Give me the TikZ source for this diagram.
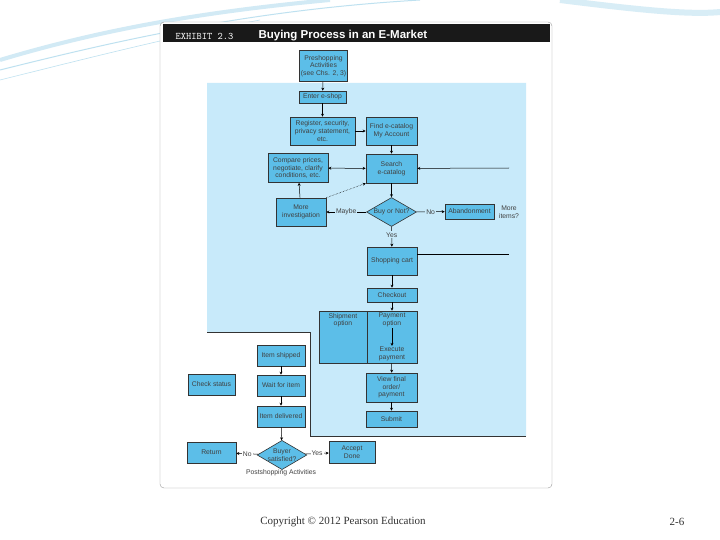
\documentclass[tikz,border=0pt]{standalone}
\usepackage{fontspec}
\setmainfont{Liberation Sans}
\newfontfamily\serf{Liberation Serif}
\usetikzlibrary{shapes.geometric,arrows.meta}
\definecolor{boxc}{RGB}{92,190,232}
\definecolor{regc}{RGB}{200,234,250}
\definecolor{swc}{RGB}{190,225,240}
\begin{document}
\begin{tikzpicture}[x=1pt,y=-1pt,
  bx/.style={draw=black!80,line width=0.6pt,fill=boxc,inner sep=0pt,align=center,font=\fontsize{6.8}{7.6}\selectfont,text=black!75},
  dm/.style={diamond,draw=black!80,line width=0.6pt,fill=boxc,inner sep=0pt,align=center,aspect=1.7,font=\fontsize{6.8}{7.6}\selectfont,text=black!75},
  lb/.style={font=\fontsize{6.8}{7.6}\selectfont,text=black!75,align=center,inner sep=1pt},
  ar/.style={-{Stealth[length=3pt,width=3pt]},line width=0.5pt}]
\useasboundingbox (0,0) rectangle (720,540);
\fill[white] (0,0) rectangle (720,540);
% background swooshes
\draw[swc,line width=1pt] (0,70) .. controls (120,40) and (250,10) .. (420,0);
\draw[swc!70,line width=4pt] (0,60) .. controls (100,30) and (200,12) .. (330,0);
\draw[swc,line width=0.6pt] (0,80) .. controls (100,55) and (180,35) .. (260,20);
\draw[swc!60,line width=6pt] (560,0) .. controls (640,10) and (690,15) .. (720,12);
% panel
\draw[black!40,fill=white,rounded corners=4pt] (160,22) rectangle (552,488);
\fill[black!90] (163,24) rectangle (550,42);
\node[anchor=west,text=white,font=\fontsize{10}{11}\selectfont\ttfamily] (ex) at (172,36) {EXHIBIT 2.3};
\node[anchor=west,text=white,font=\fontsize{11.5}{12}\selectfont\bfseries] (ti) at (255,36) {Buying Process in an E-Market};
% region
\fill[regc] (207,83) -- (526,83) -- (526,436) -- (310,436) -- (310,332) -- (207,332) -- cycle;
\draw[black!80,line width=0.6pt] (207,332) -- (310,332) -- (310,436) -- (526,436);
% nodes
\node[bx,minimum width=48,minimum height=31] (pre) at (323.5,66) {Preshopping\\Activities\\(see Chs. 2, 3)};
\node[bx,minimum width=47,minimum height=12] (ent) at (322.5,97) {Enter e-shop};
\node[bx,minimum width=65,minimum height=28] (reg) at (322.5,131) {Register, security,\\privacy statement,\\etc.};
\node[bx,minimum width=51,minimum height=28] (fin) at (391.5,131) {Find e-catalog\\My Account};
\node[bx,minimum width=60,minimum height=29] (cmp) at (298,168) {Compare prices,\\negotiate, clarify\\conditions, etc.};
\node[bx,minimum width=51,minimum height=29] (sea) at (391.5,168.5) {Search\\e-catalog};
\node[bx,minimum width=50,minimum height=28] (inv) at (301,212) {More\\investigation};
\node[dm,minimum width=50,minimum height=29] (buy) at (391.5,212) {Buy or Not?};
\node[bx,minimum width=49,minimum height=15] (aba) at (469.5,211.5) {Abandonment};
\node[lb] (mor) at (509,212) {More\\items?};
\node[bx,minimum width=50,minimum height=28] (car) at (392,261) {Shopping cart};
\node[bx,minimum width=50,minimum height=14] (chk) at (392,295) {Checkout};
\node[bx,minimum width=48,minimum height=52] (shp) at (343,337) {};
\node[lb,anchor=north] (sho) at (343,312) {Shipment\\option};
\node[bx,minimum width=50,minimum height=52] (pay) at (392,337) {};
\node[lb,anchor=north] (pop) at (392,312) {Payment\\option};
\node[lb,anchor=south] (exe) at (392,362) {Execute\\payment};
\node[bx,minimum width=51,minimum height=29] (vie) at (391.5,387.5) {View final\\order/\\payment};
\node[bx,minimum width=51,minimum height=16] (sub) at (391.5,419) {Submit};
\node[bx,minimum width=48,minimum height=21] (ish) at (281,355.5) {Item shipped};
\node[bx,minimum width=48,minimum height=21] (wai) at (281,385.5) {Wait for item};
\node[bx,minimum width=47,minimum height=21] (cst) at (211.5,384.5) {Check status};
\node[bx,minimum width=48,minimum height=21] (del) at (281,416.5) {Item delivered};
\node[dm,minimum width=48,minimum height=27] (sat) at (282,455) {Buyer\\satisfied?};
\node[bx,minimum width=49,minimum height=21] (ret) at (211.5,452.5) {Return};
\node[bx,minimum width=46,minimum height=22] (acc) at (352,452) {Accept\\Done};
\node[lb] (pos) at (281,473) {Postshopping Activities};
\coordinate (r1) at (509,168);
\coordinate (r2) at (509,254);
% connectors
\draw[ar] (pre) -- (ent);
\draw[ar] (ent) -- (reg);
\draw[ar] (reg) -- (fin);
\draw[ar] (fin) -- (sea);
\draw[{Stealth[length=3pt,width=3pt]}-{Stealth[length=3pt,width=3pt]},line width=0.5pt] (cmp) -- (sea);
\draw[ar] (inv) -- (cmp);
\draw[ar,densely dotted] (inv.north east) -- (sea.south west);
\draw[ar] (sea) -- (buy);
\draw[ar] (buy) -- node[lb,fill=regc]{Maybe} (inv);
\draw[ar] (buy) -- node[lb,fill=regc]{No} (aba);
\draw[ar] (buy) -- node[lb,fill=regc,pos=0.4]{Yes} (car);
\draw[ar] (r1) -- (sea);
\draw[line width=0.5pt] (car.east |- r2) -- (r2);
\draw[ar] (car) -- (chk);
\draw[ar] (chk) -- (pay);
\draw[ar] (pop) -- (exe);
\draw[ar] (pay) -- (vie);
\draw[ar] (vie) -- (sub);
\draw[ar] (ish) -- (wai);
\draw[ar] (wai) -- (del);
\draw[ar] (del) -- (sat);
\draw[ar] (sat) -- node[lb,fill=white]{No} (ret);
\draw[ar] (sat) -- node[lb,fill=white]{Yes} (acc);
% footer
\node[font=\serf\fontsize{11}{12}\selectfont,text=black!80] (cp) at (343,522) {Copyright © 2012 Pearson Education};
\node[font=\serf\fontsize{11}{12}\selectfont,text=black!80] (pg) at (677,522) {2-6};
\end{tikzpicture}
\end{document}
